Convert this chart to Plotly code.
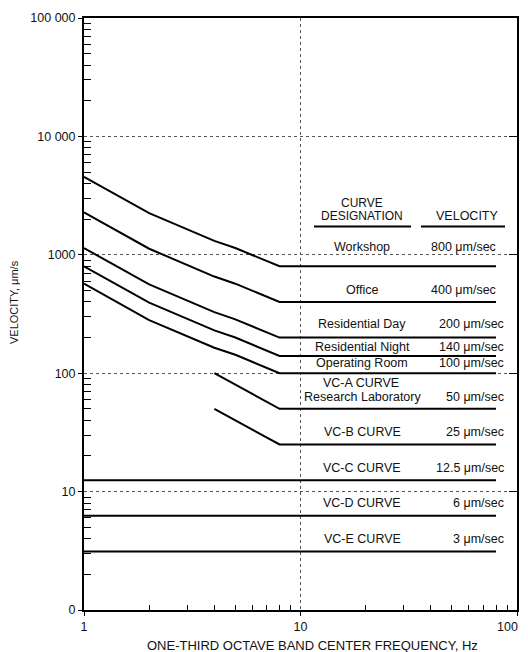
import plotly.graph_objects as go

# ---------------- data ----------------
freq_sloped = [1, 2, 4, 5, 8, 80]
workshop = [4560, 2250, 1310, 1140, 800, 800]
office = [2280, 1125, 655, 570, 400, 400]
res_day = [1140, 562, 328, 285, 200, 200]
res_night = [798, 394, 230, 200, 140, 140]
operating = [570, 281, 164, 143, 100, 100]

freq_vc = [4, 8, 80]
vc_a = [100, 50, 50]
vc_b = [50, 25, 25]

freq_flat = [1, 80]
vc_c = [12.5, 12.5]
vc_d = [6.25, 6.25]
vc_e = [3.125, 3.125]

designations = ["Workshop", "Office", "Residential Day", "Residential Night",
                "Operating Room", "Research Laboratory", "VC-B CURVE",
                "VC-C CURVE", "VC-D CURVE", "VC-E CURVE"]
velocity_labels = ["800 μm/sec", "400 μm/sec", "200 μm/sec", "140 μm/sec",
                   "100 μm/sec", "50 μm/sec", "25 μm/sec", "12.5 μm/sec",
                   "6 μm/sec", "3 μm/sec"]

y_tickvals = [1, 10, 100, 1000, 10000, 100000]
y_ticktext = ["0", "10", "100", "1000", "10 000", "100 000"]
x_tickvals = [1, 10, 100]
x_ticktext = ["1", "10", "100"]
minor_mult = [2, 3, 4, 5, 6, 7, 8, 9]

# ---------------- figure ----------------
# the page body has an 8px margin, so figure coords = page coords - 8
OFF = 8
W, H = 528 - OFF, 652 - OFF
ML, MT = 84 - OFF, 18 - OFF
PW, PH = 433, 592
MR = W - ML - PW
MB = H - MT - PH
FONT = "Liberation Sans, Arial, Helvetica, sans-serif"


def px(x):
    return (x - OFF - ML) / PW


def py(y):
    return (MT + PH - (y - OFF)) / PH


fig = go.Figure()
series = [
    (freq_sloped, workshop), (freq_sloped, office), (freq_sloped, res_day),
    (freq_sloped, res_night), (freq_sloped, operating),
    (freq_vc, vc_a), (freq_vc, vc_b),
    (freq_flat, vc_c), (freq_flat, vc_d), (freq_flat, vc_e),
]
for xs, ys in series:
    fig.add_trace(go.Scatter(x=xs, y=ys, mode="lines",
                             line=dict(color="black", width=2),
                             showlegend=False, hoverinfo="skip"))
# empty trace so the right-side tick axis renders
fig.add_trace(go.Scatter(x=[], y=[], yaxis="y2", showlegend=False,
                         hoverinfo="skip"))

x_minor = [m * 10 ** k for k in range(0, 2) for m in minor_mult]
y_minor = [m * 10 ** k for k in range(0, 5) for m in minor_mult]

common = dict(showline=True, linewidth=2, linecolor="black", mirror=True,
              ticks="outside", ticklen=4, tickwidth=1, tickcolor="black",
              showgrid=True, gridcolor="#555", griddash="dot", gridwidth=1,
              zeroline=False, automargin=False,
              tickfont=dict(family=FONT, size=12.5, color="#111"))

# the last x tick label sits at the page edge; it is drawn as an annotation
# pulled slightly left so that it stays fully visible
x_ticktext_axis = x_ticktext[:-1] + [""]

fig.update_layout(
    width=W, height=H,
    margin=dict(l=ML, r=MR, t=MT, b=MB),
    paper_bgcolor="white", plot_bgcolor="white",
    font=dict(family=FONT, color="#111"),
    xaxis=dict(type="log", range=[0, 2], tickmode="array",
               tickvals=x_tickvals, ticktext=x_ticktext_axis,
               minor=dict(tickmode="array", tickvals=x_minor, ticks="inside",
                          ticklen=5, tickwidth=1, tickcolor="black",
                          showgrid=False),
               **common),
    yaxis=dict(type="log", range=[0, 5], tickmode="array",
               tickvals=y_tickvals, ticktext=y_ticktext,
               minor=dict(tickmode="array", tickvals=y_minor, ticks="inside",
                          ticklen=7, tickwidth=1, tickcolor="black",
                          showgrid=False),
               **common),
    yaxis2=dict(type="log", range=[0, 5], overlaying="y", side="right",
                anchor="x", tickmode="array", tickvals=[10, 100, 1000, 10000],
                ticks="inside", ticklen=8, tickwidth=1, tickcolor="black",
                showticklabels=False, showgrid=False, showline=False,
                zeroline=False),
)

ann = []
FS = 12.5


def add_text(text, x, y, anchor="center", size=FS, angle=0):
    ann.append(dict(text=text, x=px(x), y=py(y), xref="paper", yref="paper",
                    xanchor=anchor, yanchor="middle", showarrow=False,
                    textangle=angle, borderpad=0,
                    font=dict(family=FONT, size=size, color="#111")))


# header
add_text("CURVE", 362, 203, size=12)
add_text("DESIGNATION", 362, 216, size=12)
add_text("VELOCITY", 467, 216, size=12.5)
fig.add_shape(type="line", xref="paper", yref="paper",
              x0=px(314), x1=px(411), y0=py(226.5), y1=py(226.5),
              line=dict(color="black", width=2))
fig.add_shape(type="line", xref="paper", yref="paper",
              x0=px(421), x1=px(505), y0=py(226.5), y1=py(226.5),
              line=dict(color="black", width=2))

label_y = [246.7, 290, 324, 346.7, 363.3, 396.7, 431.7, 467.7, 503.3, 539]
vel_right = [497, 497, 505, 505, 505, 505, 505, 505, 505, 505]
for name, vel, yy, xr in zip(designations, velocity_labels, label_y, vel_right):
    add_text(name, 362, yy)
    add_text(vel, xr, yy, anchor="right")
add_text("VC-A CURVE", 361, 383.3)

# last x tick label
add_text(x_ticktext[-1], 519, 627, anchor="right")

# axis titles
add_text("ONE-THIRD OCTAVE BAND CENTER FREQUENCY, Hz", 312, 645, size=13)
add_text("VELOCITY, μm/s", 14, 302, size=11, angle=-90)

fig.update_layout(annotations=ann)
fig.write_html("out.html")
